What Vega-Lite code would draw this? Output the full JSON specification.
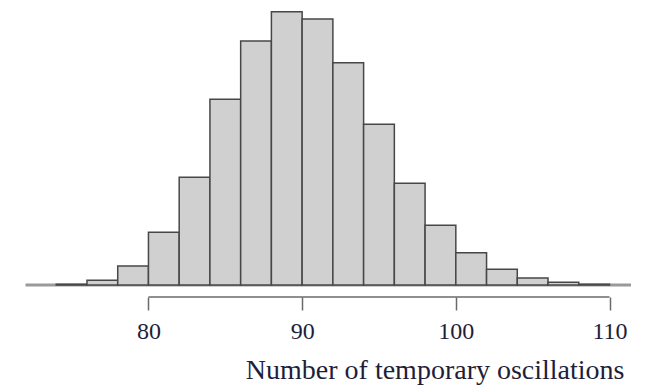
{
  "$schema": "https://vega.github.io/schema/vega-lite/v6.json",
  "width": 649,
  "height": 285,
  "autosize": {"type": "none"},
  "padding": {"left": 0, "top": 0, "right": 0, "bottom": 105},
  "background": "white",
  "config": {
    "view": {"strokeWidth": 0},
    "axisX": {
      "domain": false,
      "grid": false,
      "offset": 12,
      "tickSize": 13,
      "tickColor": "#6a6a6a",
      "tickWidth": 1.5,
      "labelFont": "Liberation Serif",
      "labelFontSize": 24,
      "labelColor": "#1e1e3a",
      "labelPadding": 9,
      "titleFont": "Liberation Serif",
      "titleFontSize": 28,
      "titleFontWeight": "normal",
      "titleColor": "#1e1e3a",
      "titleAlign": "right",
      "titleX": 624,
      "titleY": 81,
      "titleBaseline": "alphabetic"
    }
  },
  "data": {"values": [
    {"start": 74, "end": 76, "count": 2},
    {"start": 76, "end": 78, "count": 14},
    {"start": 78, "end": 80, "count": 57},
    {"start": 80, "end": 82, "count": 158},
    {"start": 82, "end": 84, "count": 323},
    {"start": 84, "end": 86, "count": 557},
    {"start": 86, "end": 88, "count": 732},
    {"start": 88, "end": 90, "count": 820},
    {"start": 90, "end": 92, "count": 798},
    {"start": 92, "end": 94, "count": 667},
    {"start": 94, "end": 96, "count": 482},
    {"start": 96, "end": 98, "count": 305},
    {"start": 98, "end": 100, "count": 179},
    {"start": 100, "end": 102, "count": 97},
    {"start": 102, "end": 104, "count": 47},
    {"start": 104, "end": 106, "count": 21},
    {"start": 106, "end": 108, "count": 8},
    {"start": 108, "end": 110, "count": 2}
  ]},
  "layer": [
    {
      "transform": [{"filter": "datum.start == 74"}],
      "mark": {"type": "rule", "color": "#9a9a9a", "strokeWidth": 3},
      "encoding": {
        "x": {"datum": 72, "type": "quantitative", "axis": {"values": [80, 90, 100, 110], "title": "Number of temporary oscillations"}},
        "x2": {"datum": 111.4},
        "y": {"datum": 0, "type": "quantitative", "axis": null}
      }
    },
    {
      "mark": {"type": "bar", "fill": "#d0d0d0", "stroke": "#474747", "strokeWidth": 1.5},
      "encoding": {
        "x": {
          "field": "start",
          "type": "quantitative",
          "scale": {"domain": [70.34, 112.57], "nice": false, "zero": false},
          "axis": {"values": [80, 90, 100, 110], "title": "Number of temporary oscillations"}
        },
        "x2": {"field": "end"},
        "y": {
          "field": "count",
          "type": "quantitative",
          "scale": {"domain": [0, 855], "nice": false},
          "axis": null
        },
        "y2": {"datum": 0}
      }
    },
    {
      "transform": [{"filter": "datum.start == 74"}],
      "mark": {"type": "rule", "color": "#6a6a6a", "strokeWidth": 1.5, "yOffset": 12},
      "encoding": {
        "x": {"datum": 80, "type": "quantitative", "axis": {"values": [80, 90, 100, 110], "title": "Number of temporary oscillations"}},
        "x2": {"datum": 110},
        "y": {"datum": 0, "type": "quantitative", "axis": null}
      }
    }
  ]
}
